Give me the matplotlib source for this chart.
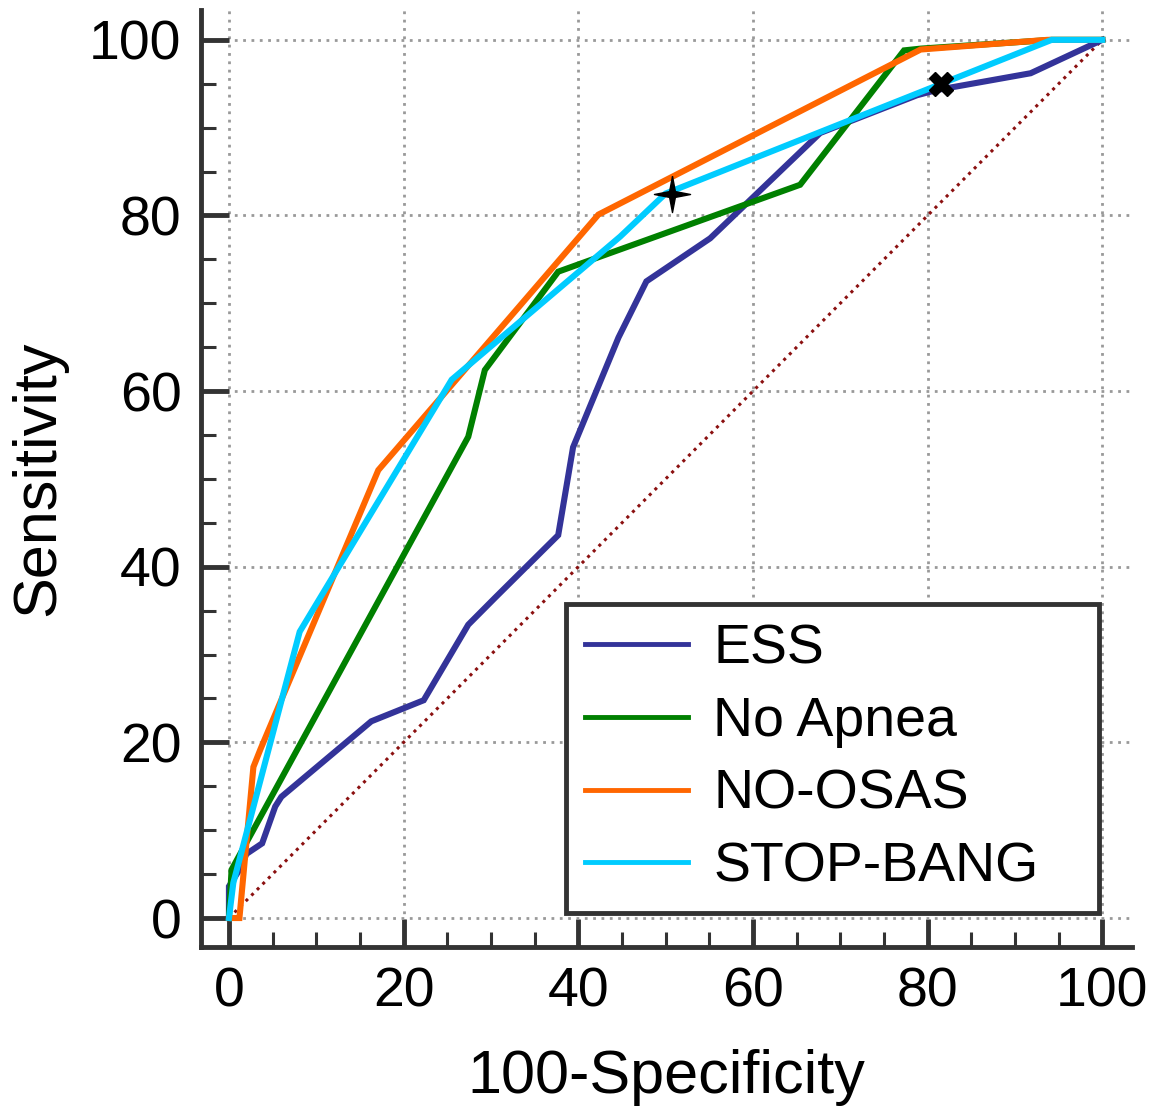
import matplotlib
matplotlib.use("Agg")
import matplotlib.pyplot as plt
from matplotlib.ticker import MultipleLocator

plt.rcParams["font.family"] = ["Liberation Sans", "DejaVu Sans"]

# ROC curves (x = 100-Specificity, y = Sensitivity)
ess_x = [0, 0, 1.2, 2.0, 3.8, 5.3, 6.0, 16.3, 22.3, 27.4, 30.5, 37.7, 39.4,
         44.6, 47.8, 55.1, 67.7, 78.8, 81.1, 91.8, 100]
ess_y = [0, 3.6, 5.5, 7.3, 8.5, 12.7, 13.8, 22.4, 24.8, 33.4, 36.5, 43.6, 53.6,
         66.1, 72.5, 77.4, 89.4, 93.7, 94.3, 96.2, 100]

apnea_x = [0, 0.3, 27.4, 29.3, 37.7, 65.4, 77.3, 79.2, 94.2, 100]
apnea_y = [0, 5.5, 54.8, 62.4, 73.6, 83.5, 98.8, 99.0, 100, 100]

osas_x = [0, 1.2, 2.8, 3.6, 17.1, 42.3, 79.2, 93.7, 100]
osas_y = [0, 0, 17.2, 19.2, 51.0, 80.1, 98.9, 100, 100]

sb_x = [0, 0.5, 8.1, 25.5, 44.8, 50.0, 94.2, 100]
sb_y = [0, 4.0, 32.6, 61.3, 77.6, 82.5, 100, 100]

# optimal cut-off markers
star_pt = (50.7, 82.5)
cross_pt = (81.5, 95.0)

labels = ["ESS", "No Apnea", "NO-OSAS", "STOP-BANG"]
colors = ["#333399", "#008000", "#FF6600", "#00CCFF"]

# thin four-pointed star for the STOP-BANG cut-off
r_in = 0.16
star_verts = [(0, 1), (r_in, r_in), (1, 0), (r_in, -r_in), (0, -1),
              (-r_in, -r_in), (-1, 0), (-r_in, r_in), (0, 1)]

fig = plt.figure(figsize=(11.7, 11.15), dpi=100)
ax = fig.add_axes([201 / 1170, 1 - 947 / 1115, (1132 - 201) / 1170, (947 - 10) / 1115])

ax.plot([0, 100], [0, 100], color="#8B1010", lw=2.2, ls=(0, (1, 1.6)), zorder=2)

series = [(ess_x, ess_y), (apnea_x, apnea_y), (osas_x, osas_y), (sb_x, sb_y)]
for (xs, ys), lab, col in zip(series, labels, colors):
    ax.plot(xs, ys, color=col, lw=4.4, label=lab, solid_joinstyle="miter", zorder=3)

ax.plot(*star_pt, marker=star_verts, color="black", markersize=26, zorder=5)
ax.plot(*cross_pt, marker="X", color="black", markersize=17, zorder=5)

ax.set_xlim(-3.2, 103.4)
ax.set_ylim(-3.3, 103.4)
ax.xaxis.set_major_locator(MultipleLocator(20))
ax.yaxis.set_major_locator(MultipleLocator(20))
ax.xaxis.set_minor_locator(MultipleLocator(5))
ax.yaxis.set_minor_locator(MultipleLocator(5))

ax.grid(True, which="major", color="#999999", lw=2, ls=(0, (1, 2)), zorder=1)
ax.set_axisbelow(True)

for side in ["top", "right"]:
    ax.spines[side].set_visible(False)
for side in ["left", "bottom"]:
    ax.spines[side].set_color("#333333")
    ax.spines[side].set_linewidth(3.5)

ax.tick_params(which="major", direction="in", length=20, width=3.5,
               color="#333333", labelsize=40, pad=14)
ax.tick_params(which="minor", direction="in", length=11, width=2.2,
               color="#333333")

ax.set_xlabel("100-Specificity", fontsize=44, labelpad=22)
ax.set_ylabel("Sensitivity", fontsize=44, labelpad=16)

leg = ax.legend(loc="lower left", bbox_to_anchor=(0.392, 0.0363, 0.5725, 0.33),
                mode="expand", borderaxespad=0, fontsize=40, fancybox=False,
                handlelength=1.85, handletextpad=0.45, labelspacing=0.37,
                borderpad=0.35, framealpha=1)
leg.get_frame().set_edgecolor("#333333")
leg.get_frame().set_linewidth(3.5)
for line in leg.get_lines():
    line.set_linewidth(3.5)

fig.savefig("out.png", dpi=100)
